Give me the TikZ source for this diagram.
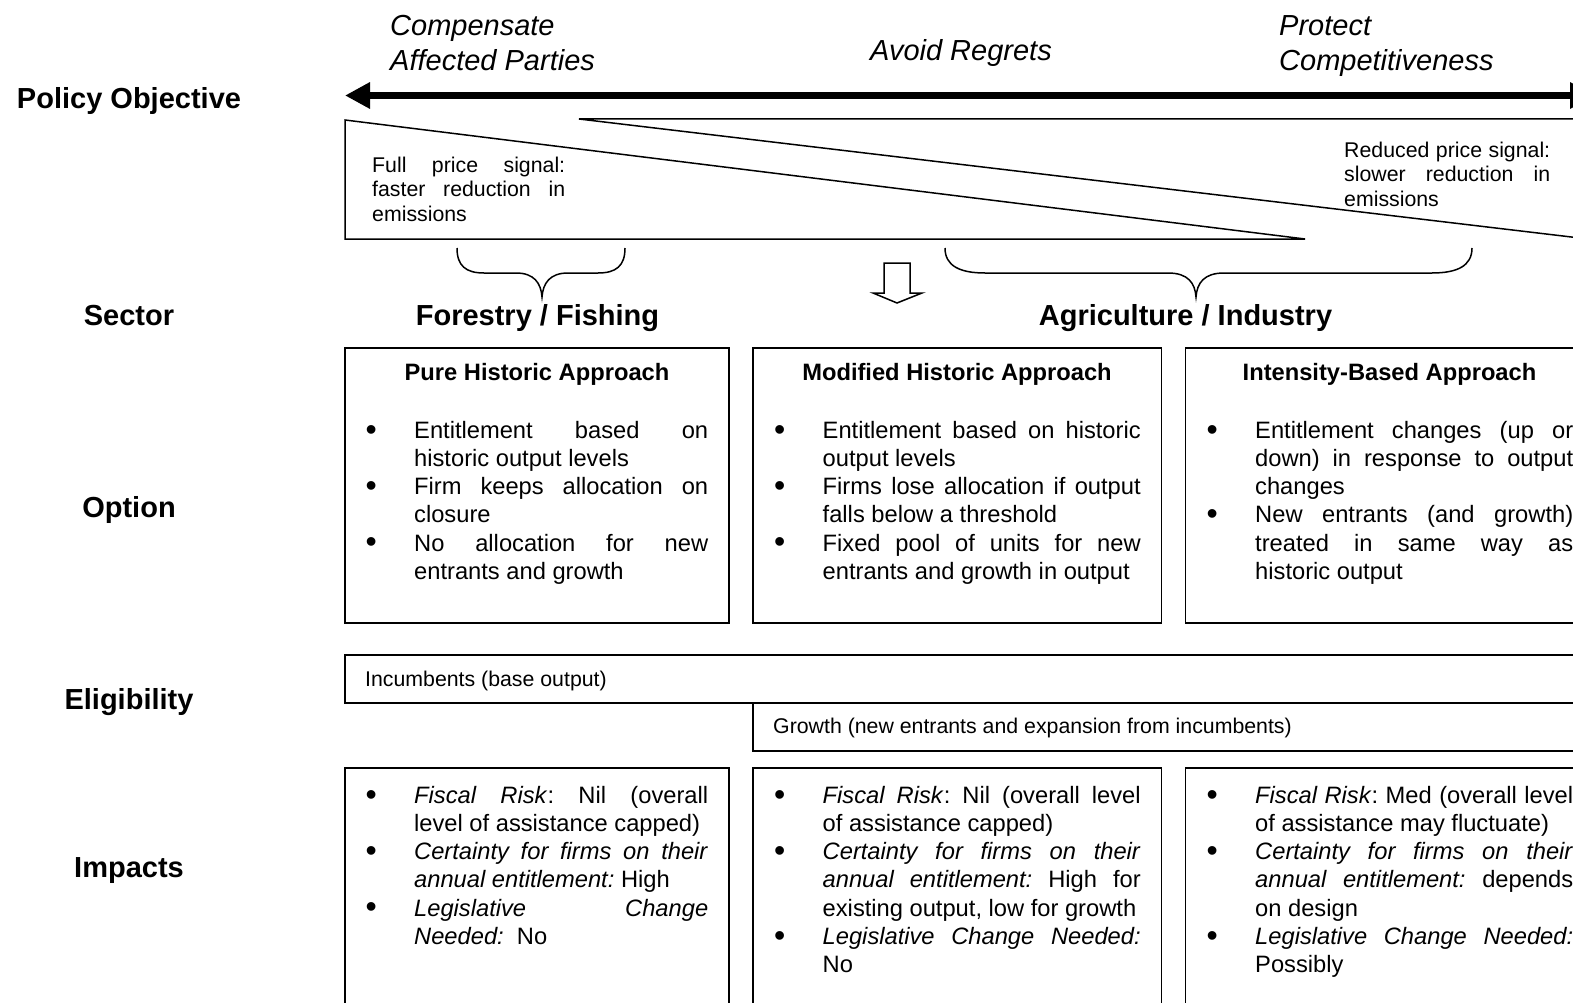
\documentclass[tikz,border=0pt]{standalone}
\usepackage{fontspec}
\setmainfont{Liberation Sans}
\usetikzlibrary{arrows.meta}
\frenchspacing

% type sizes (1 unit = 1pt)
\newcommand\bodyfont{\fontsize{23.7}{28.2}\selectfont}
\newcommand\headfont{\fontsize{29}{35}\selectfont}
\newcommand\smallfont{\fontsize{21.3}{24.5}\selectfont}
% bullet hung in the left margin of a list line
\newcommand\bul{\leavevmode\llap{\raisebox{-0.08em}{\scalebox{1.35}{\textbullet}}\hspace{37.5pt}}}
% fully justified line of a given width
\newcommand\jl[2]{\leavevmode\hbox to #1{#2}}
% fixes the height of the first line so the baseline is known
\newcommand\fbody{\rule{0pt}{20pt}}
\newcommand\fsmall{\rule{0pt}{18pt}}
\newcommand\fhead{\rule{0pt}{24pt}}
% a top-aligned text block of given width
\newcommand\blk[2]{\parbox[t]{#1}{#2}}

\tikzset{
  frame/.style={line width=1.6pt},
  thin/.style={line width=1.5pt},
  rowlabel/.style={font=\headfont\bfseries, inner sep=0pt, anchor=base},
  sectorlabel/.style={font=\headfont\bfseries, inner sep=0pt, anchor=base},
  objective/.style={font=\headfont\itshape, inner sep=0pt, anchor=north west},
  boxtitle/.style={font=\bodyfont\bfseries, inner sep=0pt, anchor=base},
  bodytext/.style={font=\bodyfont, inner sep=0pt, anchor=north west},
  smalltext/.style={font=\smallfont, inner sep=0pt, anchor=north west},
  eligtext/.style={font=\smallfont, inner sep=0pt, anchor=base west},
}

\begin{document}
\begin{tikzpicture}[x=1pt,y=-1pt]
\useasboundingbox (0,0) rectangle (1573,1003);
\fill[white] (0,0) rectangle (1573,1003);
\clip (0,0) rectangle (1573,1003);

% ---- row labels
\node[rowlabel] (lpolicy) at (129,109) {Policy Objective};
\node[rowlabel] (lsector) at (129,325) {Sector};
\node[rowlabel] (loption) at (129,517) {Option};
\node[rowlabel] (lelig)   at (129,709) {Eligibility};
\node[rowlabel] (limpact) at (129,877) {Impacts};

% ---- policy objective scale
\node[objective] (ocomp) at (390,11.5) {\blk{320pt}{\fhead Compensate\\Affected Parties}};
\node[font=\headfont\itshape, inner sep=0pt, anchor=base] (oavoid) at (961,60.5) {Avoid Regrets};
\node[objective] (oprot) at (1279,11.5) {\blk{290pt}{\fhead Protect\\Competitiveness}};

\coordinate (arrL) at (345,95.5);
\coordinate (arrR) at (1595,95.5);
\draw[line width=7pt, {Triangle[length=25pt,width=25pt]}-{Triangle[length=25pt,width=25pt]}] (arrL) -- (arrR);

% ---- price-signal wedges
\draw[thin] (345,120) -- (345,239) -- (1305,239) -- cycle;
\draw[thin] (579,119) -- (1605,119) -- (1605,241) -- cycle;

\node[smalltext] (full) at (372,154)
  {\blk{193pt}{\fsmall\jl{193pt}{Full price signal:}\\ \jl{193pt}{faster reduction in}\\ emissions}};
\node[smalltext] (reduced) at (1344,139)
  {\blk{206pt}{\fsmall\jl{206pt}{Reduced price signal:}\\ \jl{206pt}{slower reduction in}\\ emissions}};

% ---- braces and hollow arrow
\draw[thin] (457,248) .. controls (457,266) and (466,273) .. (484,273) -- (516,273)
  .. controls (534,273) and (541,283) .. (542,297)
  .. controls (543,283) and (550,273) .. (568,273) -- (598,273)
  .. controls (616,273) and (625,266) .. (625,248);
\draw[thin] (945,248) .. controls (945,266) and (960,273) .. (985,273) -- (1168,273)
  .. controls (1188,273) and (1195,283) .. (1196,297)
  .. controls (1197,283) and (1204,273) .. (1224,273) -- (1432,273)
  .. controls (1457,273) and (1472,266) .. (1472,248);
\draw[thin] (884,263) -- (910,263) -- (910,293) -- (922,293) -- (897,303)
  -- (873,293) -- (884,293) -- cycle;

% ---- sectors
\node[sectorlabel] (forest) at (537.5,325) {Forestry / Fishing};
\node[sectorlabel] (agri) at (1185.5,325) {Agriculture / Industry};

% ---- option boxes
\draw[frame] (345,348) rectangle (729,623);
\draw[frame] (753,348) rectangle (1161.5,623);
\draw[frame] (1185.5,348) rectangle (1594,623);

\node[boxtitle] (t1) at (537,380.5) {Pure Historic Approach};
\node[boxtitle] (t2) at (957,380.5) {Modified Historic Approach};
\node[boxtitle] (t3) at (1389.5,380.5) {Intensity-Based Approach};

\node[bodytext] (o1) at (414,418) {\blk{294pt}{%
  \fbody\bul\jl{294pt}{Entitlement based on}\\
  historic output levels\\
  \bul\jl{294pt}{Firm keeps allocation on}\\
  closure\\
  \bul\jl{294pt}{No allocation for new}\\
  entrants and growth}};
\node[bodytext] (o2) at (822.5,418) {\blk{318pt}{%
  \fbody\bul\jl{318pt}{Entitlement based on historic}\\
  output levels\\
  \bul\jl{318pt}{Firms lose allocation if output}\\
  falls below a threshold\\
  \bul\jl{318pt}{Fixed pool of units for new}\\
  entrants and growth in output}};
\node[bodytext] (o3) at (1255,418) {\blk{318pt}{%
  \fbody\bul\jl{318pt}{Entitlement changes (up or}\\
  \jl{318pt}{down) in response to output}\\
  changes\\
  \bul\jl{318pt}{New entrants (and growth)}\\
  \jl{318pt}{treated in same way as}\\
  historic output}};

% ---- eligibility bands
\draw[frame] (345,655) rectangle (1605,703);
\draw[frame] (753,703) rectangle (1605,751);
\node[eligtext] (inc) at (365,686.7) {Incumbents (base output)};
\node[eligtext] (grow) at (773,733.7) {Growth (new entrants and expansion from incumbents)};

% ---- impact boxes
\draw[frame] (345,768) rectangle (729,1020);
\draw[frame] (753,768) rectangle (1161.5,1020);
\draw[frame] (1185.5,768) rectangle (1594,1020);

\node[bodytext] (i1) at (414,783) {\blk{294pt}{%
  \fbody\bul\jl{294pt}{\textit{Fiscal Risk}: Nil (overall}\\
  level of assistance capped)\\
  \bul\jl{294pt}{\textit{Certainty for firms on their}}\\
  \textit{annual entitlement:} High\\
  \bul\jl{294pt}{\textit{Legislative Change}}\\
  \textit{Needed:}\ \ No}};
\node[bodytext] (i2) at (822.5,783) {\blk{318pt}{%
  \fbody\bul\jl{318pt}{\textit{Fiscal Risk}: Nil (overall level}\\
  of assistance capped)\\
  \bul\jl{318pt}{\textit{Certainty for firms on their}}\\
  \jl{318pt}{\textit{annual entitlement:} High for}\\
  existing output, low for growth\\
  \bul\jl{318pt}{\textit{Legislative Change Needed:}}\\
  No}};
\node[bodytext] (i3) at (1255,783) {\blk{318pt}{%
  \fbody\bul\jl{318pt}{\textit{Fiscal Risk}: Med (overall level}\\
  of assistance may fluctuate)\\
  \bul\jl{318pt}{\textit{Certainty for firms on their}}\\
  \jl{318pt}{\textit{annual entitlement:} depends}\\
  on design\\
  \bul\jl{318pt}{\textit{Legislative Change Needed:}}\\
  Possibly}};
\end{tikzpicture}
\end{document}
